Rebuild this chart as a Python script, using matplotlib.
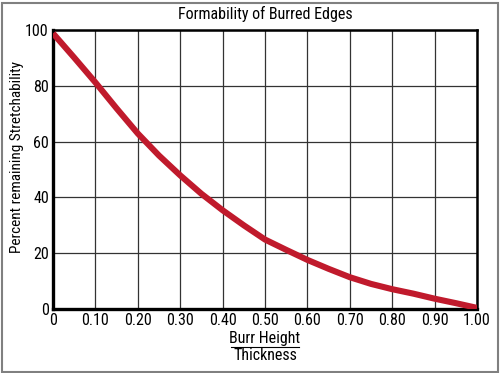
import matplotlib
matplotlib.use("Agg")
import matplotlib.pyplot as plt
from matplotlib import font_manager
from matplotlib.patches import Rectangle
from matplotlib.lines import Line2D

names = {f.name for f in font_manager.fontManager.ttflist}
fam = "Liberation Sans"
for cand in ["Liberation Sans Narrow", "Roboto Condensed", "Open Sans Condensed", "Arial Narrow"]:
    if cand in names:
        fam = cand
        break
narrow = fam != "Liberation Sans"
plt.rcParams['font.family'] = [fam, 'DejaVu Sans']

burr_ratio = [0.0, 0.05, 0.1, 0.15, 0.2, 0.25, 0.3, 0.35, 0.4, 0.45, 0.5,
              0.55, 0.6, 0.65, 0.7, 0.75, 0.8, 0.85, 0.9, 0.95, 1.0]
stretch = [98.8, 90.1, 81.2, 71.9, 62.9, 55.0, 47.9, 41.3, 35.4, 30.0, 24.9,
           21.2, 17.6, 14.4, 11.4, 9.0, 7.1, 5.5, 3.7, 2.1, 0.4]
x_ticks = [0, 0.1, 0.2, 0.3, 0.4, 0.5, 0.6, 0.7, 0.8, 0.9, 1.0]
x_tick_labels = ["0", "0.10", "0.20", "0.30", "0.40", "0.50", "0.60", "0.70", "0.80", "0.90", "1.00"]
y_ticks = [0, 20, 40, 60, 80, 100]

fs = 11.5 if narrow else 10.5
fig = plt.figure(figsize=(5, 3.73), dpi=100)
ax = fig.add_axes([53/500, 1-309/373, (477-53)/500, (309-30)/373])

ax.plot(burr_ratio, stretch, color="#c01a2c", lw=4.4, solid_capstyle="butt",
        solid_joinstyle="round", zorder=3)
ax.set_xlim(0, 1)
ax.set_ylim(0, 100)
ax.set_xticks(x_ticks)
ax.set_xticklabels(x_tick_labels)
ax.set_yticks(y_ticks)
ax.grid(True, color="#333333", lw=0.9)
ax.tick_params(length=0, labelsize=fs, pad=3)
for s in ["left", "bottom"]:
    ax.spines[s].set_linewidth(2.4)
for s in ["right", "top"]:
    ax.spines[s].set_linewidth(1.8)

ylab_fs = 11 if narrow else 9.5
fig.text(17/500, 1-157/373, "Percent remaining Stretchability", rotation=90,
         ha="center", va="center", fontsize=ylab_fs)

fig.text(265/500, 1-14/373, "Formability of Burred Edges", ha="center", va="center", fontsize=fs)
fig.text(265/500, 1-339/373, "Burr Height", ha="center", va="center", fontsize=fs)
fig.text(265/500, 1-356/373, "Thickness", ha="center", va="center", fontsize=fs)
fig.add_artist(Line2D([231/500, 299/500], [1-346.5/373, 1-346.5/373], color="black", lw=0.8))

fig.add_artist(Rectangle((1.5/500, 1.5/373), 496/500, 369/373, transform=fig.transFigure,
                         fill=False, edgecolor="#808080", lw=1.5))

fig.savefig("out.png", dpi=100)
